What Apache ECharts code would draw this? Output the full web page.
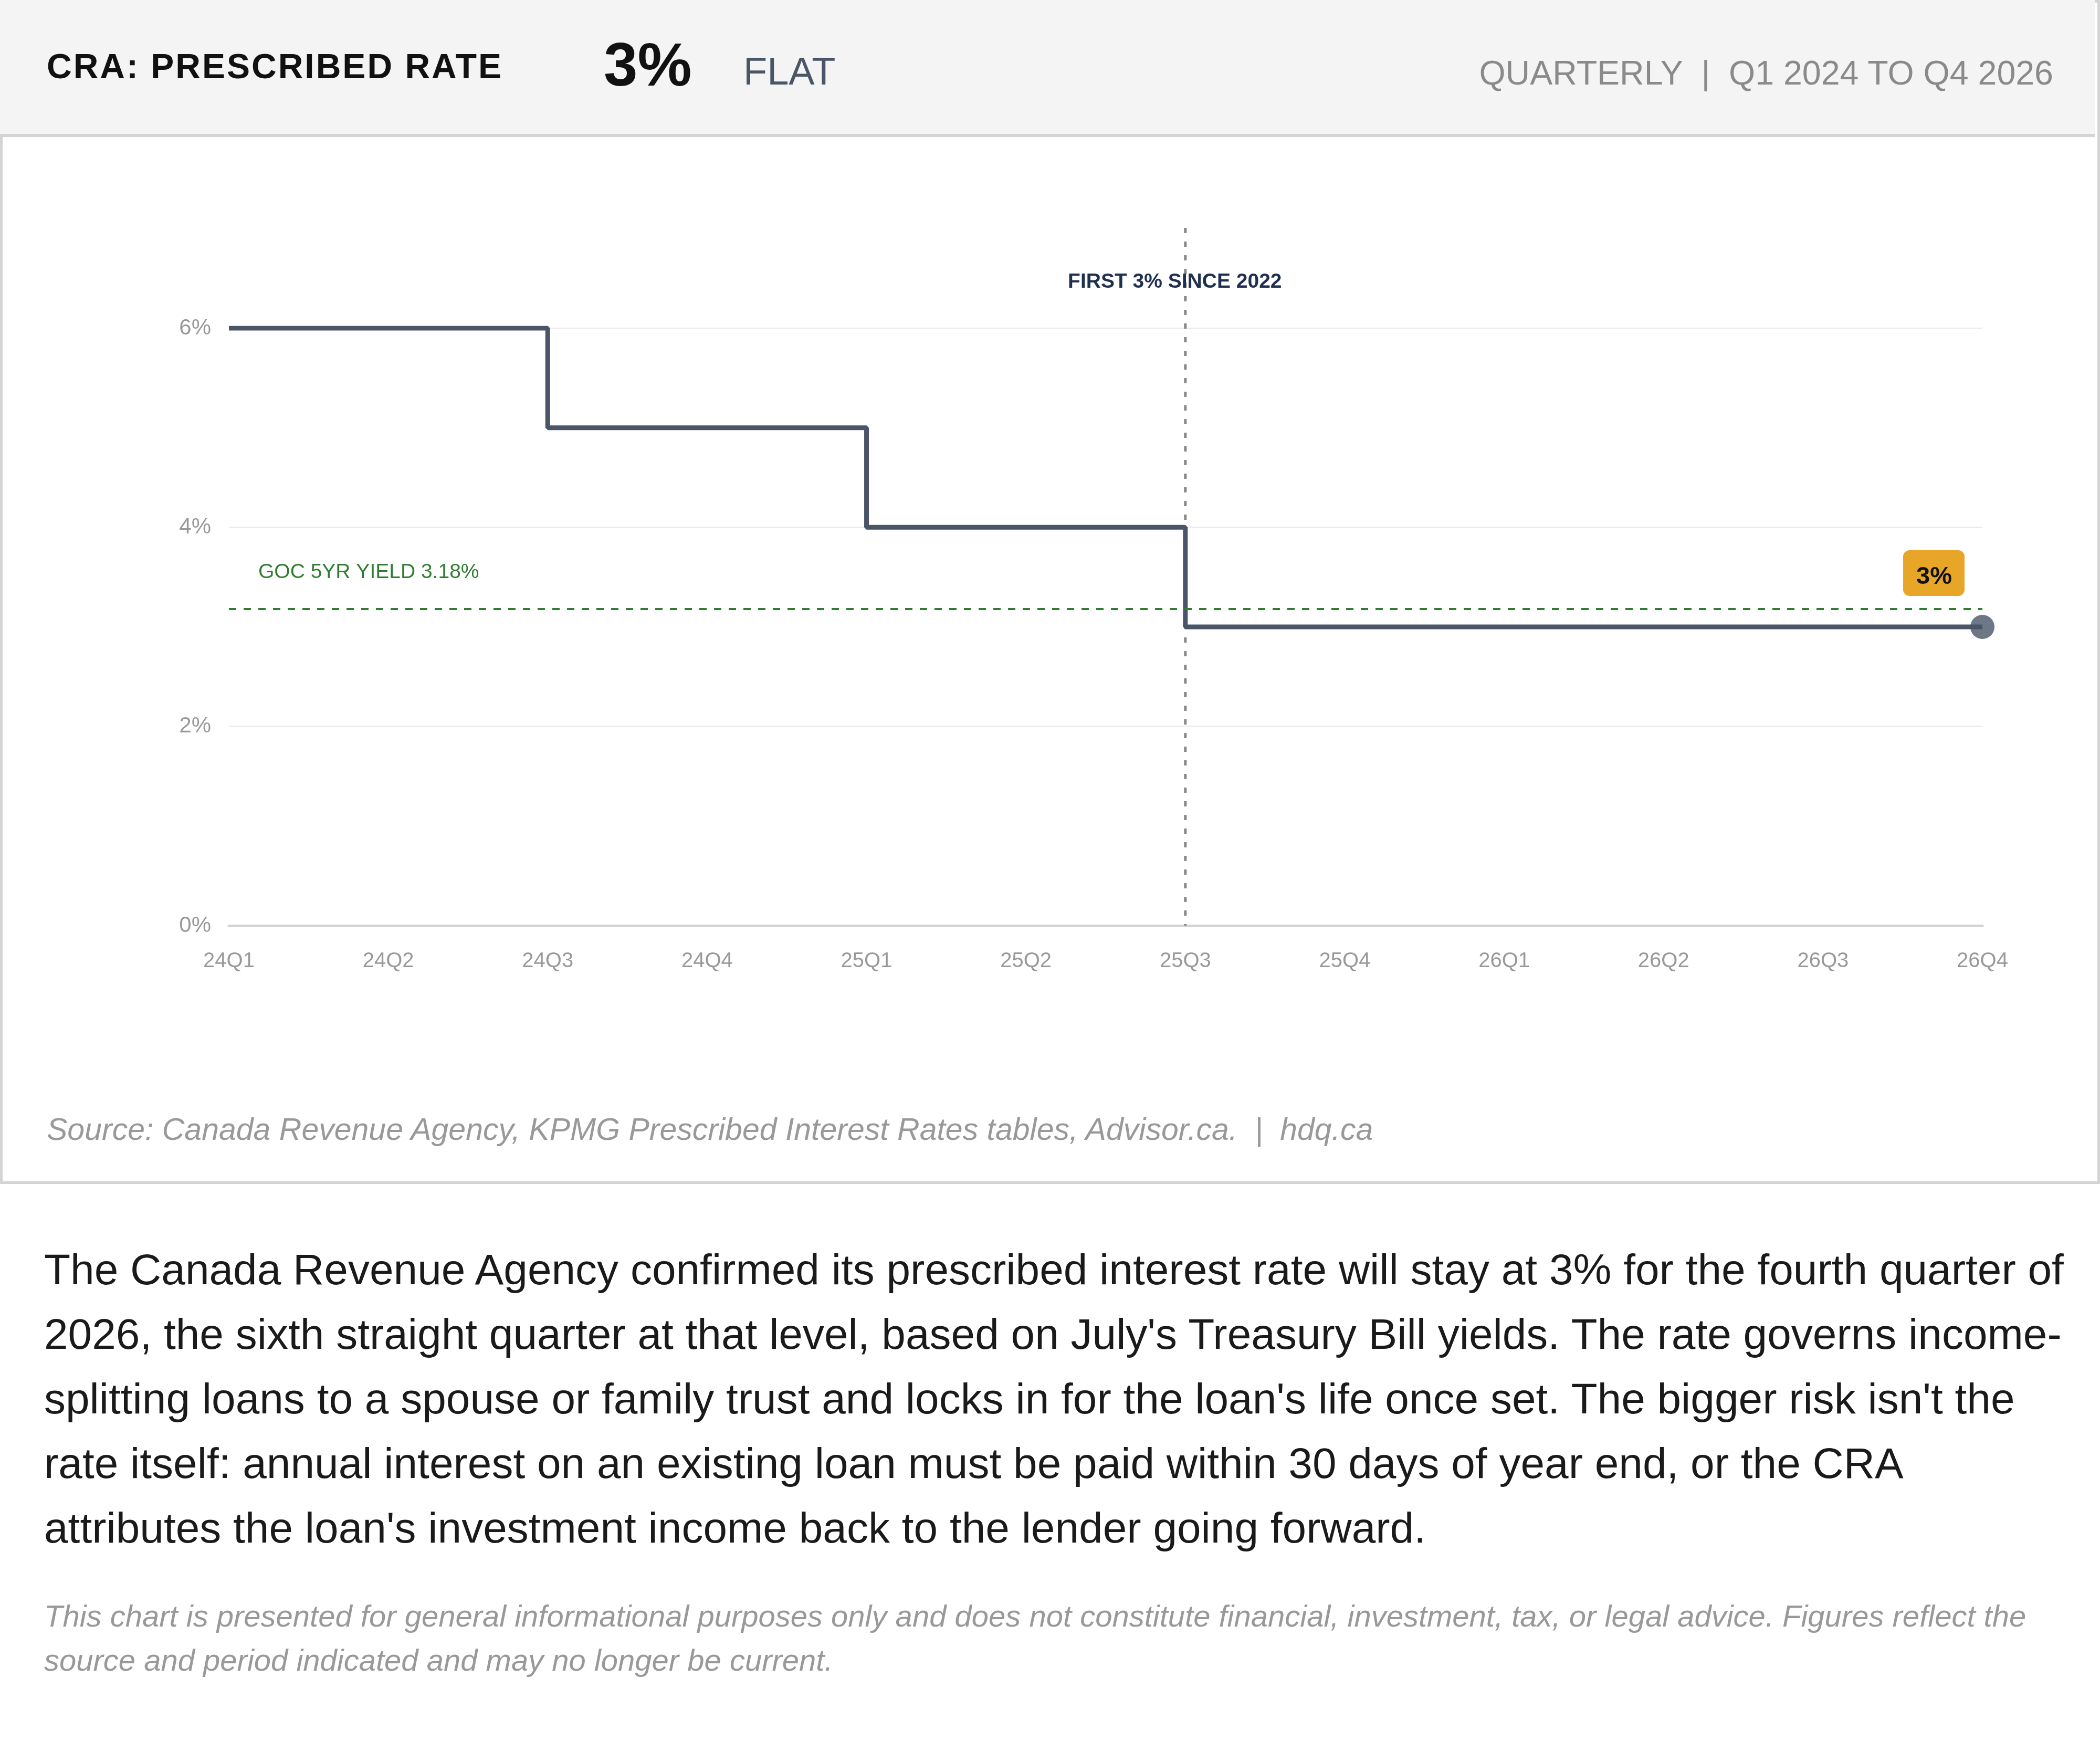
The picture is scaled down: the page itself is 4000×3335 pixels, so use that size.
<!DOCTYPE html>
<html><head><meta charset="utf-8">
<script src="https://cdn.jsdelivr.net/npm/echarts@6/dist/echarts.min.js"></script>
<style>
body{margin:0;width:4000px;height:3335px;background:#fff;font-family:"Liberation Sans",Arial,sans-serif;position:relative;overflow:hidden}
#card{position:absolute;left:0;top:0;width:3990px;height:2245px;border:5px solid #d4d4d4;}
#head{position:absolute;left:0;top:0;width:3990px;height:255px;background:#f4f4f4;border-bottom:6px solid #d4d4d4}
.t{position:absolute;white-space:nowrap}
#chart{position:absolute;left:0;top:260px;width:4000px;height:1990px}
</style></head><body>
<div id="card"></div>
<div id="head"></div>
<div class="t" style="left:89px;top:88px;font-size:66px;font-weight:bold;color:#111;letter-spacing:3px">CRA: PRESCRIBED RATE</div>
<div class="t" style="left:1150px;top:56px;font-size:116px;font-weight:bold;color:#111">3%</div>
<div class="t" style="left:1416px;top:93px;font-size:74px;color:#4a5568">FLAT</div>
<div class="t" style="right:89px;top:102px;font-size:64.5px;color:#8a8a8a">QUARTERLY &nbsp;|&nbsp; Q1 2024 TO Q4 2026</div>
<div id="chart"></div>
<div class="t" style="left:89px;top:2117px;font-size:59px;font-style:italic;color:#999">Source: Canada Revenue Agency, KPMG Prescribed Interest Rates tables, Advisor.ca. &nbsp;|&nbsp; hdq.ca</div>
<div style="position:absolute;left:84px;top:2356px;width:3880px;font-size:82px;line-height:123px;color:#1a1a1a">The Canada Revenue Agency confirmed its prescribed interest rate will stay at 3% for the fourth quarter of 2026, the sixth straight quarter at that level, based on July's Treasury Bill yields. The rate governs income-splitting loans to a spouse or family trust and locks in for the loan's life once set. The bigger risk isn't the rate itself: annual interest on an existing loan must be paid within 30 days of year end, or the CRA attributes the loan's investment income back to the lender going forward.</div>
<div style="position:absolute;left:84px;top:3036px;width:3880px;font-size:58px;line-height:84px;color:#999;font-style:italic">This chart is presented for general informational purposes only and does not constitute financial, investment, tax, or legal advice. Figures reflect the source and period indicated and may no longer be current.</div>
<script>
const categories=['24Q1','24Q2','24Q3','24Q4','25Q1','25Q2','25Q3','25Q4','26Q1','26Q2','26Q3','26Q4'];
const rate=[6,6,5,5,4,4,3,3,3,3,3,3];
const gocYield=3.18;
const gocLabel='GOC 5YR YIELD 3.18%';
const markerCat='25Q3';
const markerLabel='FIRST 3% SINCE 2022';
const lastIdx=rate.length-1;
const endPoint=rate.map((v,i)=>i===lastIdx?v:null);
const chart=echarts.init(document.getElementById('chart'));
chart.setOption({
  animation:false,
  grid:{left:436,right:224,top:365,bottom:487},
  xAxis:{type:'category',data:categories,boundaryGap:false,
    axisLine:{lineStyle:{color:'#d4d4d4',width:5}},axisTick:{show:false},
    axisLabel:{color:'#999',fontSize:40,margin:48,fontFamily:'Liberation Sans'}},
  yAxis:{type:'value',min:0,max:6,interval:2,
    axisLabel:{color:'#999',fontSize:42,margin:34,formatter:v=>v+'%',fontFamily:'Liberation Sans'},
    splitLine:{lineStyle:{color:'#ececec',width:3}},axisLine:{show:false},axisTick:{show:false}},
  series:[
    {type:'line',data:rate,step:'end',showSymbol:false,lineStyle:{color:'#4a5568',width:9},z:3,
     markLine:{silent:true,symbol:'none',label:{show:false},
       lineStyle:{color:'#2e7d32',type:[14,14],width:4},data:[{yAxis:gocYield}]}},
    {type:'scatter',data:endPoint,symbol:'circle',symbolSize:46,itemStyle:{color:'#4a5568'},z:4}
  ]
});
function place(){
  const xm=chart.convertToPixel({xAxisIndex:0},markerCat);
  const y0=chart.convertToPixel({yAxisIndex:0},0);
  const yg=chart.convertToPixel({yAxisIndex:0},gocYield);
  const x0=chart.convertToPixel({xAxisIndex:0},categories[0]);
  const end=chart.convertToPixel({xAxisIndex:0,yAxisIndex:0},[categories[lastIdx],rate[lastIdx]]);
  chart.setOption({graphic:[
    {type:'line',shape:{x1:xm,y1:174,x2:xm,y2:y0},style:{stroke:'#888',lineWidth:5,lineDash:[10,16]},z:2},
    {type:'text',x:xm-20,y:277,style:{text:markerLabel,fill:'#1f2f50',font:'bold 39px "Liberation Sans"',textAlign:'center',textVerticalAlign:'middle'},z:5},
    {type:'text',x:x0+56,y:yg-70,style:{text:gocLabel,fill:'#2e7d32',font:'39px "Liberation Sans"',textAlign:'left',textVerticalAlign:'middle'},z:5},
    {type:'rect',shape:{x:end[0]-151,y:end[1]-146,width:117,height:87,r:12},style:{fill:'#e8a628'},z:5},
    {type:'text',x:end[0]-92,y:end[1]-95,style:{text:'3%',fill:'#111',font:'bold 47px "Liberation Sans"',textAlign:'center',textVerticalAlign:'middle'},z:6}
  ]});
}
place();
</script>
</body></html>
